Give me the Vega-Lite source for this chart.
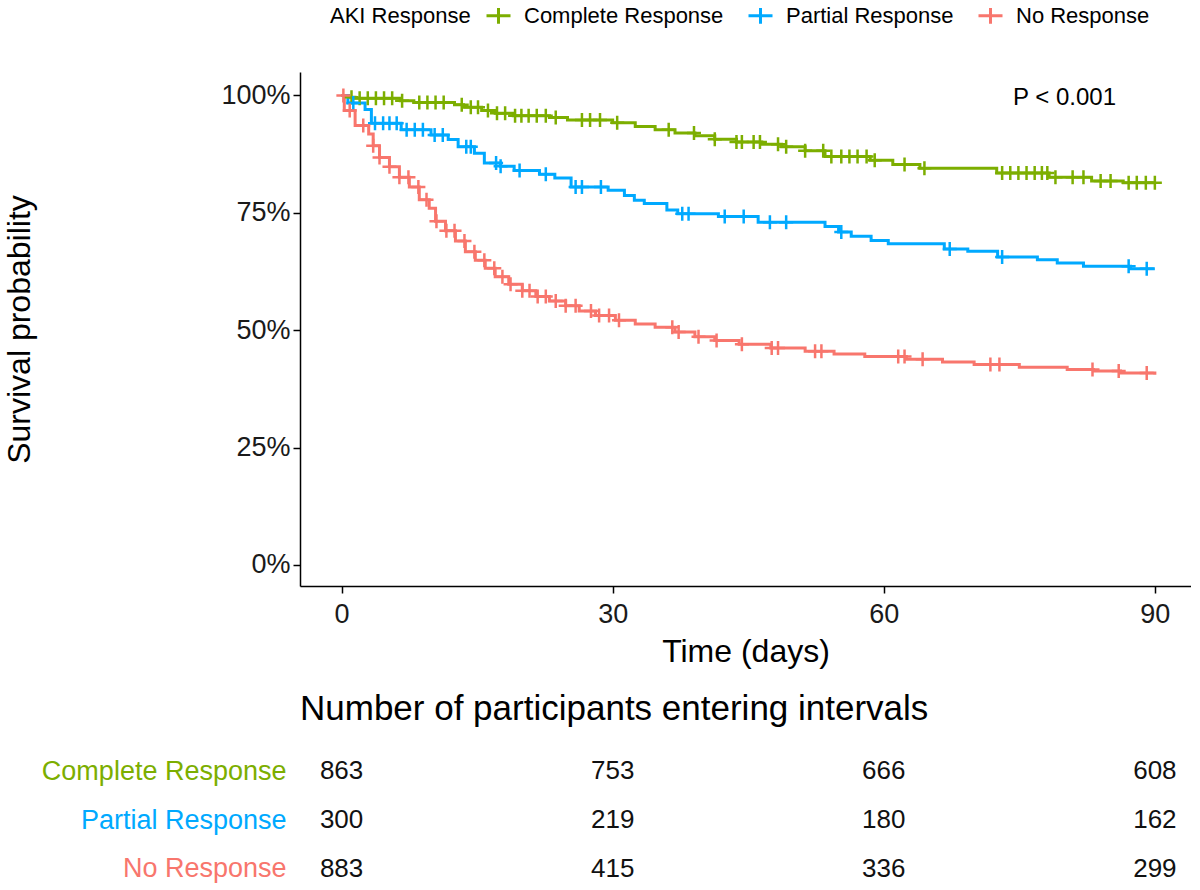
{
  "$schema": "https://vega.github.io/schema/vega-lite/v6.json",
  "padding": {"left": 3, "top": 2, "right": 0, "bottom": 0},
  "autosize": {"type": "pad"},
  "config": {
    "font": "Liberation Sans",
    "view": {"stroke": null},
    "axis": {"domainColor": "black", "tickColor": "black", "labelColor": "#1a1a1a", "titleColor": "black", "grid": false, "titleFontWeight": "normal", "domainWidth": 1.5, "tickWidth": 1.5, "tickSize": 7, "labelLimit": 0},
    "legend": {"labelLimit": 0}
  },
  "spacing": 25,
  "datasets": {
    "curves": [
      {"g": "Complete Response", "t": 0, "s": 1.0},
      {"g": "Complete Response", "t": 0.8, "s": 0.996},
      {"g": "Complete Response", "t": 1.5, "s": 0.994},
      {"g": "Complete Response", "t": 6.5, "s": 0.989},
      {"g": "Complete Response", "t": 8.0, "s": 0.985},
      {"g": "Complete Response", "t": 12.5, "s": 0.980},
      {"g": "Complete Response", "t": 13.5, "s": 0.975},
      {"g": "Complete Response", "t": 15.5, "s": 0.968},
      {"g": "Complete Response", "t": 17.0, "s": 0.962},
      {"g": "Complete Response", "t": 19.0, "s": 0.957},
      {"g": "Complete Response", "t": 23.0, "s": 0.953},
      {"g": "Complete Response", "t": 25.0, "s": 0.948},
      {"g": "Complete Response", "t": 30.0, "s": 0.942},
      {"g": "Complete Response", "t": 32.5, "s": 0.934},
      {"g": "Complete Response", "t": 34.7, "s": 0.927},
      {"g": "Complete Response", "t": 36.9, "s": 0.920},
      {"g": "Complete Response", "t": 39.1, "s": 0.914},
      {"g": "Complete Response", "t": 41.3, "s": 0.907},
      {"g": "Complete Response", "t": 43.7, "s": 0.901},
      {"g": "Complete Response", "t": 46.5, "s": 0.896},
      {"g": "Complete Response", "t": 48.7, "s": 0.891},
      {"g": "Complete Response", "t": 51.3, "s": 0.882},
      {"g": "Complete Response", "t": 53.5, "s": 0.870},
      {"g": "Complete Response", "t": 58.5, "s": 0.862},
      {"g": "Complete Response", "t": 61.0, "s": 0.853},
      {"g": "Complete Response", "t": 64.0, "s": 0.845},
      {"g": "Complete Response", "t": 72.5, "s": 0.835},
      {"g": "Complete Response", "t": 78.3, "s": 0.826},
      {"g": "Complete Response", "t": 83.0, "s": 0.818},
      {"g": "Complete Response", "t": 86.5, "s": 0.814},
      {"g": "Complete Response", "t": 90.0, "s": 0.814},
      {"g": "Partial Response", "t": 0, "s": 1.0},
      {"g": "Partial Response", "t": 0.7, "s": 0.984},
      {"g": "Partial Response", "t": 2.6, "s": 0.970},
      {"g": "Partial Response", "t": 3.3, "s": 0.941},
      {"g": "Partial Response", "t": 6.6, "s": 0.927},
      {"g": "Partial Response", "t": 9.9, "s": 0.916},
      {"g": "Partial Response", "t": 11.8, "s": 0.906},
      {"g": "Partial Response", "t": 12.9, "s": 0.891},
      {"g": "Partial Response", "t": 14.7, "s": 0.877},
      {"g": "Partial Response", "t": 15.8, "s": 0.856},
      {"g": "Partial Response", "t": 17.6, "s": 0.849},
      {"g": "Partial Response", "t": 19.1, "s": 0.840},
      {"g": "Partial Response", "t": 21.9, "s": 0.832},
      {"g": "Partial Response", "t": 23.6, "s": 0.824},
      {"g": "Partial Response", "t": 25.4, "s": 0.805},
      {"g": "Partial Response", "t": 29.5, "s": 0.798},
      {"g": "Partial Response", "t": 31.3, "s": 0.787},
      {"g": "Partial Response", "t": 32.4, "s": 0.777},
      {"g": "Partial Response", "t": 33.5, "s": 0.770},
      {"g": "Partial Response", "t": 36.0, "s": 0.756},
      {"g": "Partial Response", "t": 37.2, "s": 0.748},
      {"g": "Partial Response", "t": 41.7, "s": 0.742},
      {"g": "Partial Response", "t": 46.1, "s": 0.730},
      {"g": "Partial Response", "t": 53.5, "s": 0.721},
      {"g": "Partial Response", "t": 55.0, "s": 0.709},
      {"g": "Partial Response", "t": 56.4, "s": 0.700},
      {"g": "Partial Response", "t": 58.6, "s": 0.691},
      {"g": "Partial Response", "t": 60.5, "s": 0.684},
      {"g": "Partial Response", "t": 66.7, "s": 0.673},
      {"g": "Partial Response", "t": 69.3, "s": 0.668},
      {"g": "Partial Response", "t": 72.6, "s": 0.656},
      {"g": "Partial Response", "t": 77.0, "s": 0.650},
      {"g": "Partial Response", "t": 79.2, "s": 0.643},
      {"g": "Partial Response", "t": 82.1, "s": 0.636},
      {"g": "Partial Response", "t": 87.3, "s": 0.631},
      {"g": "Partial Response", "t": 90.0, "s": 0.631},
      {"g": "No Response", "t": 0, "s": 1.0},
      {"g": "No Response", "t": 0.3, "s": 0.968},
      {"g": "No Response", "t": 1.5, "s": 0.936},
      {"g": "No Response", "t": 3.0, "s": 0.918},
      {"g": "No Response", "t": 3.5, "s": 0.893},
      {"g": "No Response", "t": 4.2, "s": 0.868},
      {"g": "No Response", "t": 5.3, "s": 0.848},
      {"g": "No Response", "t": 6.4, "s": 0.826},
      {"g": "No Response", "t": 7.5, "s": 0.805},
      {"g": "No Response", "t": 8.6, "s": 0.778},
      {"g": "No Response", "t": 9.7, "s": 0.760},
      {"g": "No Response", "t": 10.4, "s": 0.732},
      {"g": "No Response", "t": 11.5, "s": 0.712},
      {"g": "No Response", "t": 12.6, "s": 0.690},
      {"g": "No Response", "t": 13.7, "s": 0.667},
      {"g": "No Response", "t": 14.8, "s": 0.649},
      {"g": "No Response", "t": 15.9, "s": 0.632},
      {"g": "No Response", "t": 17.0, "s": 0.614},
      {"g": "No Response", "t": 18.5, "s": 0.598},
      {"g": "No Response", "t": 20.0, "s": 0.584},
      {"g": "No Response", "t": 21.5, "s": 0.572},
      {"g": "No Response", "t": 23.0, "s": 0.562},
      {"g": "No Response", "t": 24.8, "s": 0.552},
      {"g": "No Response", "t": 26.3, "s": 0.541},
      {"g": "No Response", "t": 28.1, "s": 0.531},
      {"g": "No Response", "t": 30.3, "s": 0.521},
      {"g": "No Response", "t": 32.5, "s": 0.513},
      {"g": "No Response", "t": 34.7, "s": 0.506},
      {"g": "No Response", "t": 36.9, "s": 0.496},
      {"g": "No Response", "t": 39.1, "s": 0.486},
      {"g": "No Response", "t": 41.3, "s": 0.478},
      {"g": "No Response", "t": 44.0, "s": 0.470},
      {"g": "No Response", "t": 47.5, "s": 0.462},
      {"g": "No Response", "t": 51.3, "s": 0.455},
      {"g": "No Response", "t": 54.5, "s": 0.449},
      {"g": "No Response", "t": 57.9, "s": 0.444},
      {"g": "No Response", "t": 62.5, "s": 0.438},
      {"g": "No Response", "t": 66.5, "s": 0.432},
      {"g": "No Response", "t": 70.0, "s": 0.427},
      {"g": "No Response", "t": 75.0, "s": 0.421},
      {"g": "No Response", "t": 80.3, "s": 0.416},
      {"g": "No Response", "t": 83.2, "s": 0.413},
      {"g": "No Response", "t": 86.2, "s": 0.409},
      {"g": "No Response", "t": 90.0, "s": 0.405}
    ],
    "censor": [
      {"g": "Complete Response", "t": 1.1, "s": 0.996},
      {"g": "Complete Response", "t": 2.0, "s": 0.994},
      {"g": "Complete Response", "t": 2.9, "s": 0.994},
      {"g": "Complete Response", "t": 3.8, "s": 0.994},
      {"g": "Complete Response", "t": 4.7, "s": 0.994},
      {"g": "Complete Response", "t": 5.6, "s": 0.994},
      {"g": "Complete Response", "t": 6.7, "s": 0.989},
      {"g": "Complete Response", "t": 8.6, "s": 0.985},
      {"g": "Complete Response", "t": 9.5, "s": 0.985},
      {"g": "Complete Response", "t": 10.4, "s": 0.985},
      {"g": "Complete Response", "t": 11.3, "s": 0.985},
      {"g": "Complete Response", "t": 13.3, "s": 0.980},
      {"g": "Complete Response", "t": 14.3, "s": 0.975},
      {"g": "Complete Response", "t": 15.1, "s": 0.975},
      {"g": "Complete Response", "t": 16.2, "s": 0.968},
      {"g": "Complete Response", "t": 17.2, "s": 0.962},
      {"g": "Complete Response", "t": 18.1, "s": 0.962},
      {"g": "Complete Response", "t": 19.2, "s": 0.957},
      {"g": "Complete Response", "t": 19.9, "s": 0.957},
      {"g": "Complete Response", "t": 20.7, "s": 0.957},
      {"g": "Complete Response", "t": 21.6, "s": 0.957},
      {"g": "Complete Response", "t": 22.6, "s": 0.957},
      {"g": "Complete Response", "t": 23.7, "s": 0.953},
      {"g": "Complete Response", "t": 26.6, "s": 0.948},
      {"g": "Complete Response", "t": 27.5, "s": 0.948},
      {"g": "Complete Response", "t": 28.6, "s": 0.948},
      {"g": "Complete Response", "t": 30.5, "s": 0.942},
      {"g": "Complete Response", "t": 36.2, "s": 0.927},
      {"g": "Complete Response", "t": 39.0, "s": 0.920},
      {"g": "Complete Response", "t": 41.3, "s": 0.907},
      {"g": "Complete Response", "t": 43.7, "s": 0.901},
      {"g": "Complete Response", "t": 44.3, "s": 0.901},
      {"g": "Complete Response", "t": 45.6, "s": 0.901},
      {"g": "Complete Response", "t": 46.3, "s": 0.901},
      {"g": "Complete Response", "t": 48.3, "s": 0.896},
      {"g": "Complete Response", "t": 49.2, "s": 0.891},
      {"g": "Complete Response", "t": 51.3, "s": 0.882},
      {"g": "Complete Response", "t": 53.3, "s": 0.882},
      {"g": "Complete Response", "t": 54.2, "s": 0.870},
      {"g": "Complete Response", "t": 55.3, "s": 0.870},
      {"g": "Complete Response", "t": 56.2, "s": 0.870},
      {"g": "Complete Response", "t": 57.1, "s": 0.870},
      {"g": "Complete Response", "t": 58.1, "s": 0.870},
      {"g": "Complete Response", "t": 59.0, "s": 0.862},
      {"g": "Complete Response", "t": 62.3, "s": 0.853},
      {"g": "Complete Response", "t": 64.5, "s": 0.845},
      {"g": "Complete Response", "t": 73.1, "s": 0.835},
      {"g": "Complete Response", "t": 74.0, "s": 0.835},
      {"g": "Complete Response", "t": 74.9, "s": 0.835},
      {"g": "Complete Response", "t": 75.8, "s": 0.835},
      {"g": "Complete Response", "t": 76.7, "s": 0.835},
      {"g": "Complete Response", "t": 77.5, "s": 0.835},
      {"g": "Complete Response", "t": 78.1, "s": 0.835},
      {"g": "Complete Response", "t": 79.0, "s": 0.826},
      {"g": "Complete Response", "t": 80.9, "s": 0.826},
      {"g": "Complete Response", "t": 82.1, "s": 0.826},
      {"g": "Complete Response", "t": 84.0, "s": 0.818},
      {"g": "Complete Response", "t": 85.1, "s": 0.818},
      {"g": "Complete Response", "t": 87.1, "s": 0.814},
      {"g": "Complete Response", "t": 88.0, "s": 0.814},
      {"g": "Complete Response", "t": 89.0, "s": 0.814},
      {"g": "Complete Response", "t": 90.0, "s": 0.814},
      {"g": "Partial Response", "t": 1.3, "s": 0.984},
      {"g": "Partial Response", "t": 3.7, "s": 0.941},
      {"g": "Partial Response", "t": 4.6, "s": 0.941},
      {"g": "Partial Response", "t": 5.3, "s": 0.941},
      {"g": "Partial Response", "t": 6.1, "s": 0.941},
      {"g": "Partial Response", "t": 7.2, "s": 0.927},
      {"g": "Partial Response", "t": 8.1, "s": 0.927},
      {"g": "Partial Response", "t": 9.0, "s": 0.927},
      {"g": "Partial Response", "t": 10.3, "s": 0.916},
      {"g": "Partial Response", "t": 11.2, "s": 0.916},
      {"g": "Partial Response", "t": 13.8, "s": 0.891},
      {"g": "Partial Response", "t": 14.3, "s": 0.891},
      {"g": "Partial Response", "t": 17.1, "s": 0.856},
      {"g": "Partial Response", "t": 17.6, "s": 0.849},
      {"g": "Partial Response", "t": 19.7, "s": 0.840},
      {"g": "Partial Response", "t": 22.6, "s": 0.832},
      {"g": "Partial Response", "t": 25.9, "s": 0.805},
      {"g": "Partial Response", "t": 26.6, "s": 0.805},
      {"g": "Partial Response", "t": 28.7, "s": 0.805},
      {"g": "Partial Response", "t": 37.7, "s": 0.748},
      {"g": "Partial Response", "t": 38.4, "s": 0.748},
      {"g": "Partial Response", "t": 42.4, "s": 0.742},
      {"g": "Partial Response", "t": 44.5, "s": 0.742},
      {"g": "Partial Response", "t": 47.4, "s": 0.730},
      {"g": "Partial Response", "t": 49.2, "s": 0.730},
      {"g": "Partial Response", "t": 55.3, "s": 0.709},
      {"g": "Partial Response", "t": 67.3, "s": 0.673},
      {"g": "Partial Response", "t": 73.1, "s": 0.656},
      {"g": "Partial Response", "t": 87.1, "s": 0.636},
      {"g": "Partial Response", "t": 89.1, "s": 0.631},
      {"g": "No Response", "t": 0.2, "s": 1.0},
      {"g": "No Response", "t": 0.9, "s": 0.968},
      {"g": "No Response", "t": 2.4, "s": 0.936},
      {"g": "No Response", "t": 3.5, "s": 0.893},
      {"g": "No Response", "t": 4.2, "s": 0.868},
      {"g": "No Response", "t": 5.3, "s": 0.848},
      {"g": "No Response", "t": 6.4, "s": 0.826},
      {"g": "No Response", "t": 7.4, "s": 0.826},
      {"g": "No Response", "t": 8.5, "s": 0.805},
      {"g": "No Response", "t": 9.4, "s": 0.778},
      {"g": "No Response", "t": 10.5, "s": 0.732},
      {"g": "No Response", "t": 11.6, "s": 0.712},
      {"g": "No Response", "t": 12.5, "s": 0.712},
      {"g": "No Response", "t": 13.6, "s": 0.690},
      {"g": "No Response", "t": 14.7, "s": 0.667},
      {"g": "No Response", "t": 15.8, "s": 0.649},
      {"g": "No Response", "t": 16.9, "s": 0.632},
      {"g": "No Response", "t": 17.8, "s": 0.614},
      {"g": "No Response", "t": 18.7, "s": 0.598},
      {"g": "No Response", "t": 20.0, "s": 0.584},
      {"g": "No Response", "t": 20.8, "s": 0.584},
      {"g": "No Response", "t": 21.7, "s": 0.572},
      {"g": "No Response", "t": 22.6, "s": 0.572},
      {"g": "No Response", "t": 23.7, "s": 0.562},
      {"g": "No Response", "t": 24.8, "s": 0.552},
      {"g": "No Response", "t": 25.9, "s": 0.552},
      {"g": "No Response", "t": 27.6, "s": 0.541},
      {"g": "No Response", "t": 28.5, "s": 0.531},
      {"g": "No Response", "t": 29.6, "s": 0.531},
      {"g": "No Response", "t": 30.7, "s": 0.521},
      {"g": "No Response", "t": 36.6, "s": 0.506},
      {"g": "No Response", "t": 37.3, "s": 0.496},
      {"g": "No Response", "t": 39.5, "s": 0.486},
      {"g": "No Response", "t": 41.5, "s": 0.478},
      {"g": "No Response", "t": 44.3, "s": 0.470},
      {"g": "No Response", "t": 47.6, "s": 0.462},
      {"g": "No Response", "t": 48.3, "s": 0.462},
      {"g": "No Response", "t": 52.4, "s": 0.455},
      {"g": "No Response", "t": 53.1, "s": 0.455},
      {"g": "No Response", "t": 61.6, "s": 0.444},
      {"g": "No Response", "t": 62.3, "s": 0.444},
      {"g": "No Response", "t": 64.3, "s": 0.438},
      {"g": "No Response", "t": 71.8, "s": 0.427},
      {"g": "No Response", "t": 72.8, "s": 0.427},
      {"g": "No Response", "t": 83.1, "s": 0.416},
      {"g": "No Response", "t": 86.0, "s": 0.413},
      {"g": "No Response", "t": 89.1, "s": 0.409}
    ],
    "pval": [{"t": 80, "s": 0.995, "label": "P < 0.001"}],
    "risk": [
      {"g": "Complete Response", "t": 0, "n": 863},
      {"g": "Complete Response", "t": 30, "n": 753},
      {"g": "Complete Response", "t": 60, "n": 666},
      {"g": "Complete Response", "t": 90, "n": 608},
      {"g": "Partial Response", "t": 0, "n": 300},
      {"g": "Partial Response", "t": 30, "n": 219},
      {"g": "Partial Response", "t": 60, "n": 180},
      {"g": "Partial Response", "t": 90, "n": 162},
      {"g": "No Response", "t": 0, "n": 883},
      {"g": "No Response", "t": 30, "n": 415},
      {"g": "No Response", "t": 60, "n": 336},
      {"g": "No Response", "t": 90, "n": 299}
    ]
  },
  "vconcat": [
    {
      "width": 891,
      "height": 514,
      "encoding": {
        "x": {"field": "t", "type": "quantitative", "scale": {"domain": [-4.6, 94.0], "nice": false, "zero": false},
              "axis": {"values": [0, 30, 60, 90], "title": "Time (days)", "titleFontSize": 32, "labelFontSize": 27, "labelPadding": 8, "titlePadding": 9}},
        "y": {"field": "s", "type": "quantitative", "scale": {"domain": [-0.045, 1.05], "nice": false, "zero": false},
              "axis": {"values": [0, 0.25, 0.5, 0.75, 1], "format": ".0%", "title": "Survival probability", "titleFontSize": 32, "labelFontSize": 27, "labelPadding": 3, "titlePadding": 184}}
      },
      "layer": [
        {
          "data": {"name": "curves"},
          "mark": {"type": "line", "interpolate": "step-after", "strokeWidth": 3},
          "encoding": {
            "color": {"field": "g", "type": "nominal", "scale": {"domain": ["Complete Response", "Partial Response", "No Response"], "range": ["#7CAE00", "#00A9FF", "#F8766D"]},
                      "legend": {"orient": "none", "legendX": 30, "legendY": -70, "direction": "horizontal", "title": "AKI Response", "titleOrient": "left", "titleFontSize": 22, "titleFontWeight": "normal", "titleColor": "black", "labelFontSize": 22, "labelColor": "black", "labelLimit": 0, "symbolType": "M-1,0H1M0,-0.65V0.65", "symbolSize": 576, "symbolStrokeWidth": 3, "symbolFillColor": "transparent", "labelOffset": 12, "columnPadding": 18, "titlePadding": 14}}
          }
        },
        {
          "data": {"name": "censor"},
          "mark": {"type": "point", "shape": "M-1,0H1M0,-1V1", "filled": false, "strokeWidth": 2.5, "size": 196, "opacity": 1},
          "encoding": {
            "color": {"field": "g", "type": "nominal", "scale": {"domain": ["Complete Response", "Partial Response", "No Response"], "range": ["#7CAE00", "#00A9FF", "#F8766D"]},
                      "legend": {"orient": "none", "legendX": 30, "legendY": -70, "direction": "horizontal", "title": "AKI Response", "titleOrient": "left", "titleFontSize": 22, "titleFontWeight": "normal", "titleColor": "black", "labelFontSize": 22, "labelColor": "black", "labelLimit": 0, "symbolType": "M-1,0H1M0,-0.65V0.65", "symbolSize": 576, "symbolStrokeWidth": 3, "symbolFillColor": "transparent", "labelOffset": 12, "columnPadding": 18, "titlePadding": 14}}
          }
        },
        {
          "data": {"name": "pval"},
          "mark": {"type": "text", "fontSize": 24, "color": "black", "align": "center", "baseline": "middle"},
          "encoding": {"text": {"field": "label"}}
        }
      ]
    },
    {
      "width": 891,
      "height": 146,
      "title": {"text": "Number of participants entering intervals", "anchor": "start", "frame": "group", "fontSize": 35, "fontWeight": "normal", "color": "black", "offset": 20},
      "data": {"name": "risk"},
      "mark": {"type": "text", "fontSize": 26, "color": "#111111", "align": "center", "baseline": "middle"},
      "encoding": {
        "x": {"field": "t", "type": "quantitative", "scale": {"domain": [-4.6, 94.0], "nice": false, "zero": false}, "axis": null},
        "y": {"field": "g", "type": "nominal", "sort": ["Complete Response", "Partial Response", "No Response"],
              "axis": {"title": null, "domain": false, "ticks": false, "tickSize": 0, "labelPadding": 14, "labelFontSize": 27, "labelLimit": 0,
                       "labelColor": {"condition": [{"test": "datum.value === 'Complete Response'", "value": "#7CAE00"}, {"test": "datum.value === 'Partial Response'", "value": "#00A9FF"}], "value": "#F8766D"}}},
        "text": {"field": "n", "type": "quantitative"}
      }
    }
  ]
}
